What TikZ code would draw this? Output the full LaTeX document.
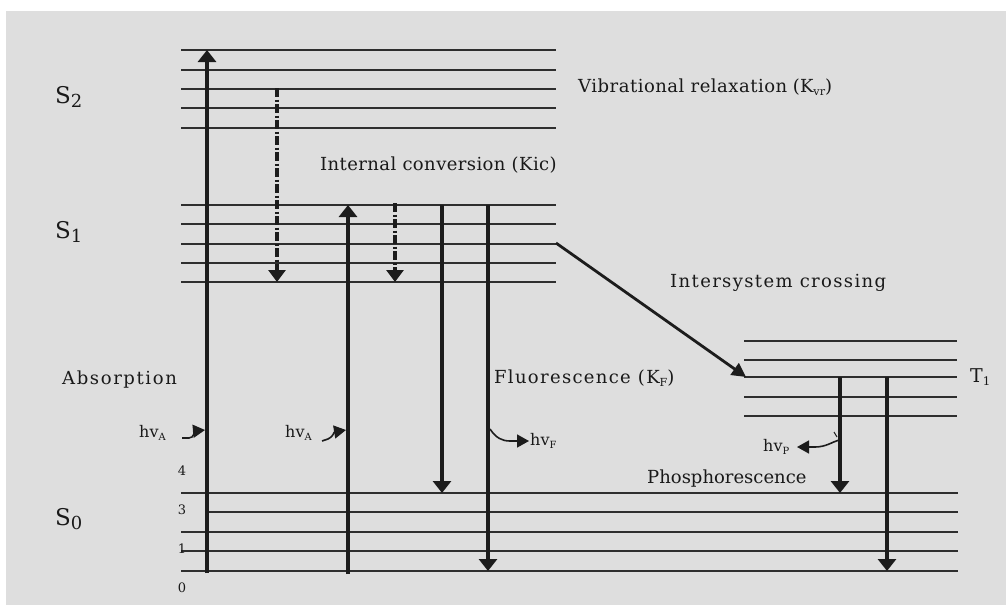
\documentclass[tikz,border=0pt]{standalone}
\usepackage{fontspec}
\setmainfont{DejaVu Serif}
\usetikzlibrary{arrows.meta}
\newcommand\lowidx[1]{\raisebox{-0.35ex}{\scalebox{0.62}{#1}}}
\newcommand\stateidx[1]{\raisebox{-0.3ex}{\scalebox{0.78}{#1}}}
\newcommand\spaced[2]{{\addfontfeature{LetterSpace=#1}#2}}
\definecolor{panel}{HTML}{DEDEDE}
\definecolor{ink}{HTML}{1C1C1C}
\definecolor{rule}{HTML}{2E2E2E}
\tikzset{
  level/.style={draw=rule, line width=1.8pt},
  trans/.style={draw=ink, line width=4.2pt, -{Triangle[width=18pt,length=12pt]}},
  nonrad/.style={draw=ink, line width=4.2pt, dash pattern=on 9pt off 2.5pt on 2pt off 2.5pt,
                 -{Triangle[width=17pt,length=12pt]}},
  isc/.style={draw=ink, line width=2.8pt, -{Triangle[width=14pt,length=14pt]}},
  photon/.style={draw=ink, line width=1.6pt, -{Triangle[width=13pt,length=12pt]}},
  lab/.style={inner sep=0pt, anchor=west, text=black!90, font=\fontsize{18}{20}\selectfont},
  hvlab/.style={lab, font=\fontsize{16}{18}\selectfont},
  state/.style={inner sep=0pt, anchor=west, text=black!90, font=\fontsize{23}{25}\selectfont},
  vnum/.style={inner sep=0pt, text=black!90, font=\fontsize{13}{15}\selectfont},
}
\begin{document}
\begin{tikzpicture}[x=1pt,y=-1pt]
  \useasboundingbox (0,0) rectangle (1006,605);
  \fill[white] (0,0) rectangle (1006,605);
  \fill[panel] (6,11) rectangle (1006,605);

  % vibrational levels of S2 and S1
  \foreach \y in {50,70,89,108,128, 205,224,244,263,282}
    \draw[level] (181,\y) -- (556,\y);
  % vibrational levels of T1
  \foreach \y in {341,360,377,397,416}
    \draw[level] (744,\y) -- (957,\y);
  % vibrational levels of S0
  \foreach \y in {493,532,551,571}
    \draw[level] (181,\y) -- (958,\y);
  \draw[level] (207,512) -- (958,512);

  % state labels
  \node[state] (S2) at (55,97) {S\stateidx{2}};
  \node[state] (S1) at (55,232) {S\stateidx{1}};
  \node[state] (S0) at (55,519) {S\stateidx{0}};
  \node[lab, font=\fontsize{19}{22}\selectfont] (T1) at (970,377) {T\lowidx{1}};

  % vibrational quantum numbers of S0
  \node[vnum] (v4) at (182,471) {4};
  \node[vnum] (v3) at (182,510) {3};
  \node[vnum] (v1) at (182,549) {1};
  \node[vnum] (v0) at (182,588) {0};

  % process labels
  \node[lab] (vr)  at (578,87)  {\spaced{2.8}{Vibrational relaxation} (K\lowidx{vr})};
  \node[lab] (ic)  at (320,165) {\spaced{2.3}{Internal conversion (Kic)}};
  \node[lab] (iscl) at (670,283) {\spaced{7.6}{Intersystem crossing}};
  \node[lab] (abs) at (62,380)  {\spaced{9}{Absorption}};
  \node[lab] (fl)  at (494,378) {\spaced{7.3}{Fluorescence (K}\lowidx{F})};
  \node[lab] (ph)  at (647,479) {Phosphorescence};

  % photon labels
  \node[hvlab] (hA1) at (139,433) {hv\lowidx{A}};
  \node[hvlab] (hA2) at (285,433) {hv\lowidx{A}};
  \node[hvlab] (hF)  at (530,441) {hv\lowidx{F}};
  \node[hvlab] (hP)  at (763,447) {hv\lowidx{P}};

  % end points of the transitions
  \coordinate (a1b) at (207,573);  \coordinate (a1t) at (207,50);
  \coordinate (a2b) at (348,574);  \coordinate (a2t) at (348,205);
  \coordinate (ic1t) at (277,88);  \coordinate (ic1b) at (277,282);
  \coordinate (ic2t) at (395,203); \coordinate (ic2b) at (395,282);
  \coordinate (f1t) at (442,205);  \coordinate (f1b) at (442,493);
  \coordinate (f2t) at (488,205);  \coordinate (f2b) at (488,571);
  \coordinate (p1t) at (840,377);  \coordinate (p1b) at (840,493);
  \coordinate (p2t) at (887,377);  \coordinate (p2b) at (887,571);
  \coordinate (iscs) at (556,243); \coordinate (isce) at (746,377);

  % absorption
  \draw[trans] (a1b) -- (a1t);
  \draw[trans] (a2b) -- (a2t);
  % internal conversion / vibrational relaxation
  \draw[nonrad] (ic1t) -- (ic1b);
  \draw[nonrad] (ic2t) -- (ic2b);
  % fluorescence
  \draw[trans] (f1t) -- (f1b);
  \draw[trans] (f2t) -- (f2b);
  % phosphorescence
  \draw[trans] (p1t) -- (p1b);
  \draw[trans] (p2t) -- (p2b);
  % intersystem crossing
  \draw[isc] (iscs) -- (isce);

  % photons
  \coordinate (gA1s) at (182,438); \coordinate (gA1e) at (205,430);
  \coordinate (gA2s) at (322,441); \coordinate (gA2e) at (346,430);
  \coordinate (gFs) at (490,429);  \coordinate (gFe) at (529,441);
  \coordinate (gPs) at (839,440);  \coordinate (gPe) at (797,447);
  \draw[photon] (gA1s) -- ++(7,0) .. controls (194,438) and (195,431) .. (gA1e);
  \draw[photon] (gA2s) -- ++(6,-2) .. controls (333,437) and (334,432) .. (gA2e);
  \draw[photon] (gFs) .. controls (496,438) and (502,441) .. (510,441) -- (gFe);
  \draw[photon] (gPs) .. controls (832,442) and (826,447) .. (815,447) -- (gPe);
  \draw[draw=ink, line width=1pt] (834,432) -- (837,437);
\end{tikzpicture}
\end{document}
